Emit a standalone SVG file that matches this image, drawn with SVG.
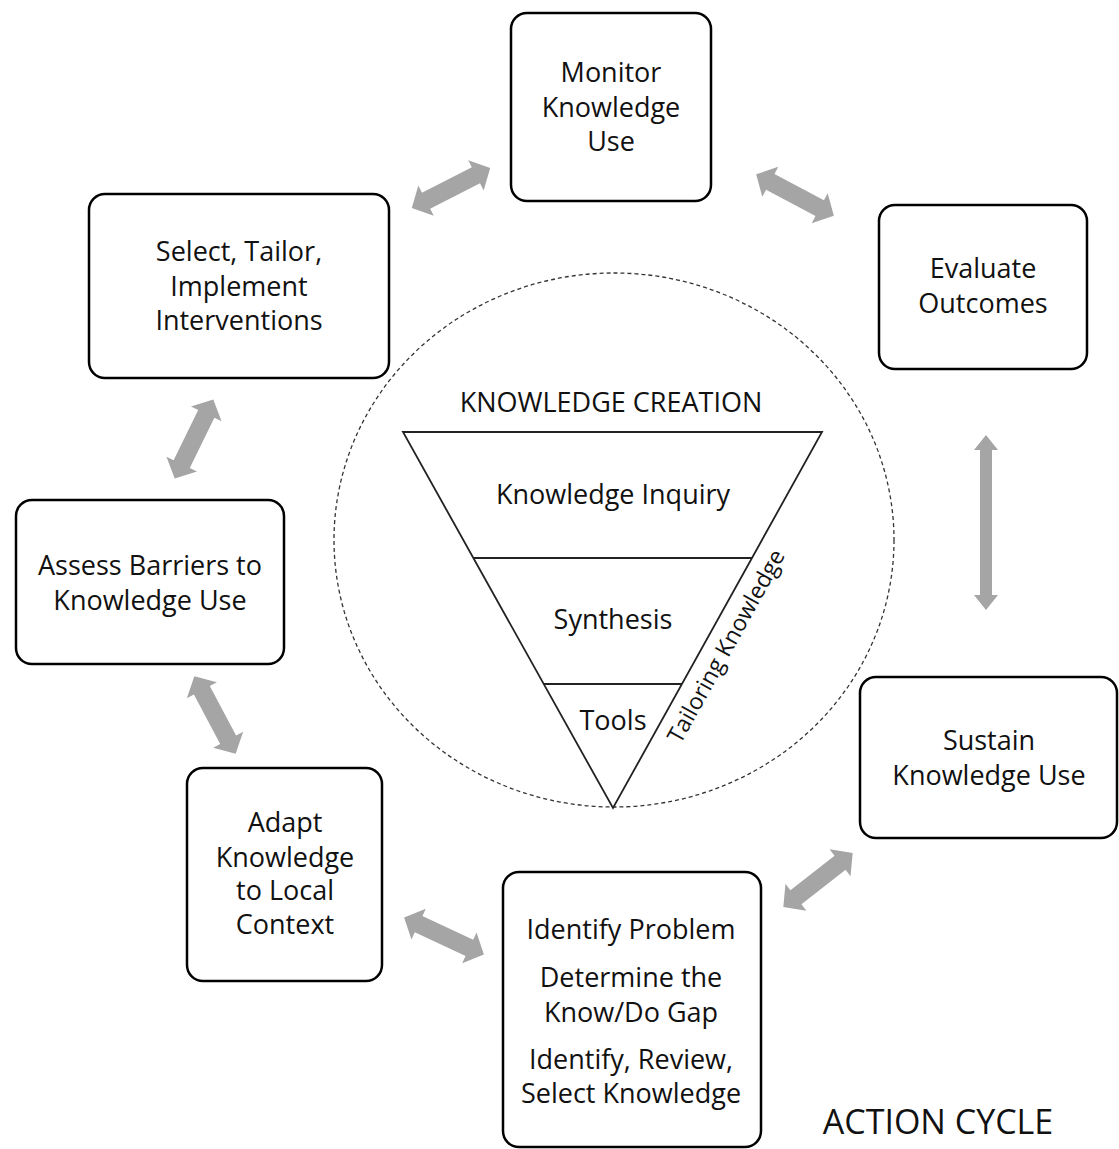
<svg xmlns="http://www.w3.org/2000/svg" width="1119" height="1149" viewBox="0 0 1119 1149">
<style>
.box{fill:#fff;stroke:#000;stroke-width:2.5}
.t{font-family:"Open Sans","Liberation Sans",sans-serif;font-size:27px;fill:#111;text-anchor:middle}
.arr{fill:#a5a5a5}
.ln{stroke:#222;stroke-width:1.8;fill:none}
</style>
<defs>
<path id="dbl" d="M -44 0 L -28 -17 L -28 -9 L 28 -9 L 28 -17 L 44 0 L 28 17 L 28 9 L -28 9 L -28 17 Z"/>
</defs>
<rect width="1119" height="1149" fill="#fff"/>
<g id="connectors" class="arr">
<use href="#dbl" transform="translate(451,188) rotate(-27)"/>
<use href="#dbl" transform="translate(795,195) rotate(28)"/>
<path d="M 986 435 L 998 450 L 992 450 L 992 595 L 998 595 L 986 610 L 974 595 L 980 595 L 980 450 L 974 450 Z"/>
<use href="#dbl" transform="translate(818,880) rotate(-38)"/>
<use href="#dbl" transform="translate(444,936) rotate(25)"/>
<use href="#dbl" transform="translate(215,715) rotate(62)"/>
<use href="#dbl" transform="translate(194,439) rotate(-64)"/>
</g>
<g id="knowledge-creation">
<ellipse cx="614" cy="540" rx="280" ry="267" fill="none" stroke="#333" stroke-width="1.3" stroke-dasharray="4,3"/>
<path class="ln" d="M 403 432 L 822 432 L 613 808 Z"/>
<line class="ln" x1="474" y1="558" x2="752" y2="558"/>
<line class="ln" x1="544" y1="684" x2="682" y2="684"/>
<text class="t" x="611" y="412">KNOWLEDGE CREATION</text>
<text class="t" x="613" y="504">Knowledge Inquiry</text>
<text class="t" x="613" y="629">Synthesis</text>
<text class="t" x="613" y="730">Tools</text>
<text class="t" transform="translate(733,650) rotate(-61)" x="0" y="0" style="font-size:23px">Tailoring Knowledge</text>
</g>
<g id="monitor">
<rect class="box" x="511" y="13" width="200" height="188" rx="16"/>
<text class="t" x="611" y="82">Monitor</text>
<text class="t" x="611" y="117">Knowledge</text>
<text class="t" x="611" y="151">Use</text>
</g>
<g id="evaluate">
<rect class="box" x="879" y="205" width="208" height="164" rx="16"/>
<text class="t" x="983" y="278">Evaluate</text>
<text class="t" x="983" y="313">Outcomes</text>
</g>
<g id="select">
<rect class="box" x="89" y="194" width="300" height="184" rx="16"/>
<text class="t" x="239" y="261">Select, Tailor,</text>
<text class="t" x="239" y="296">Implement</text>
<text class="t" x="239" y="330">Interventions</text>
</g>
<g id="assess">
<rect class="box" x="16" y="500" width="268" height="164" rx="16"/>
<text class="t" x="150" y="575">Assess Barriers to</text>
<text class="t" x="150" y="610">Knowledge Use</text>
</g>
<g id="adapt">
<rect class="box" x="187" y="768" width="195" height="213" rx="16"/>
<text class="t" x="285" y="832">Adapt</text>
<text class="t" x="285" y="867">Knowledge</text>
<text class="t" x="285" y="900">to Local</text>
<text class="t" x="285" y="934">Context</text>
</g>
<g id="identify">
<rect class="box" x="503" y="872" width="258" height="275" rx="16"/>
<text class="t" x="631" y="939">Identify Problem</text>
<text class="t" x="631" y="987">Determine the</text>
<text class="t" x="631" y="1022">Know/Do Gap</text>
<text class="t" x="631" y="1069">Identify, Review,</text>
<text class="t" x="631" y="1103">Select Knowledge</text>
</g>
<g id="sustain">
<rect class="box" x="860" y="677" width="257" height="161" rx="16"/>
<text class="t" x="989" y="750">Sustain</text>
<text class="t" x="989" y="785">Knowledge Use</text>
</g>
<text class="t" x="938" y="1134" style="font-size:34px">ACTION CYCLE</text>
</svg>
